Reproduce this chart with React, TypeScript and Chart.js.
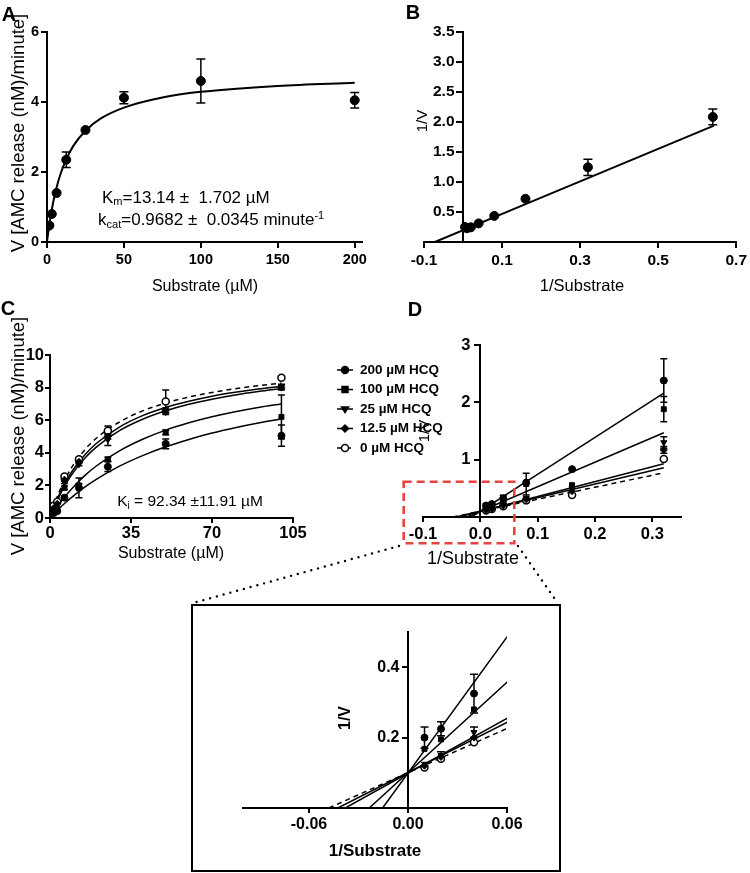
import React, { useEffect, useRef } from 'react';
import { Chart, registerables } from 'chart.js';

Chart.register(...registerables);

const FONT = "'Liberation Sans', Arial, Helvetica, sans-serif";

// ---------------- Panel A : Michaelis-Menten ----------------
const A_SUBSTRATE = [1.5625, 3.125, 6.25, 12.5, 25, 50, 100, 200];
const A_VELOCITY = [0.47, 0.8, 1.4, 2.35, 3.2, 4.12, 4.6, 4.05];
const A_ERROR = [0, 0, 0, 0.22, 0, 0.17, 0.63, 0.22];
const A_FIT_X = [0, 1, 2, 4, 6, 9, 12.5, 17, 25, 35, 50, 75, 100, 150, 200];
const A_FIT_Y = [0, 0.34, 0.64, 1.13, 1.52, 1.97, 2.36, 2.74, 3.18, 3.53, 3.84, 4.13, 4.29, 4.46, 4.55];
const A_X_TICKS = [0, 50, 100, 150, 200];
const A_Y_TICKS = [0, 2, 4, 6];

// ---------------- Panel B : Lineweaver-Burk ----------------
const B_INV_S = [0.005, 0.01, 0.02, 0.04, 0.08, 0.16, 0.32, 0.64];
const B_INV_V = [0.25, 0.23, 0.245, 0.31, 0.435, 0.72, 1.245, 2.085];
const B_ERROR = [0, 0, 0, 0, 0, 0, 0.135, 0.13];
const B_FIT_X = [-0.072, 0.643];
const B_FIT_Y = [0, 1.94];
const B_X_TICKS = [-0.1, 0.1, 0.3, 0.5, 0.7];
const B_Y_TICKS = [0.5, 1, 1.5, 2, 2.5, 3, 3.5];

// ---------------- Panel C : inhibition ----------------
const C_SERIES_LABELS = ['200 \u00B5M HCQ', '100 \u00B5M HCQ', '25 \u00B5M HCQ', '12.5 \u00B5M HCQ', '0 \u00B5M HCQ'];
const C_SUBSTRATE = [1.5625, 3.125, 6.25, 12.5, 25, 50, 100];
const C_V_200 = [0.3, 0.42, 1.25, 1.85, 3.15, 4.55, 5.05];
const C_V_100 = [0.35, 0.55, 1.85, 2.0, 3.6, 5.25, 6.2];
const C_V_25 = [0.5, 0.8, 2.2, 3.3, 4.8, 6.5, 8.05];
const C_V_12_5 = [0.6, 0.87, 2.35, 3.45, 5.0, 6.6, 8.0];
const C_V_0 = [0.75, 1.0, 2.55, 3.6, 5.35, 7.15, 8.6];
const C_E_200 = [0, 0, 0.08, 0.6, 0.3, 0.3, 0.65];
const C_E_100 = [0, 0, 0.1, 0.1, 0.12, 0.15, 1.35];
const C_E_25 = [0, 0, 0.08, 0.1, 0.35, 0.15, 0.15];
const C_E_12_5 = [0, 0, 0.08, 0.1, 0.15, 0.15, 0.15];
const C_E_0 = [0, 0, 0.08, 0.1, 0.3, 0.7, 0.1];
const C_FIT_X = [0, 2, 4, 7, 10, 15, 20, 30, 40, 50, 60, 70, 80, 90, 100];
const C_FIT_200 = [0, 0.30, 0.59, 0.98, 1.34, 1.89, 2.37, 3.18, 3.83, 4.37, 4.82, 5.21, 5.54, 5.83, 6.08];
const C_FIT_100 = [0, 0.45, 0.86, 1.41, 1.89, 2.60, 3.19, 4.12, 4.83, 5.39, 5.84, 6.21, 6.52, 6.78, 7.00];
const C_FIT_25 = [0, 0.71, 1.33, 2.12, 2.78, 3.66, 4.35, 5.36, 6.06, 6.58, 6.98, 7.29, 7.55, 7.76, 7.94];
const C_FIT_12_5 = [0, 0.78, 1.44, 2.28, 2.96, 3.87, 4.57, 5.58, 6.28, 6.78, 7.16, 7.47, 7.71, 7.91, 8.08];
const C_FIT_0 = [0, 0.87, 1.61, 2.51, 3.24, 4.18, 4.89, 5.89, 6.57, 7.05, 7.42, 7.70, 7.93, 8.12, 8.27];
const C_X_TICKS = [0, 35, 70, 105];
const C_Y_TICKS = [0, 2, 4, 6, 8, 10];

// ---------------- Panel D : double reciprocal with inhibitor ----------------
const D_INV_S = [0.01, 0.02, 0.04, 0.08, 0.16, 0.32];
const D_INV_V_200 = [0.20, 0.225, 0.325, 0.60, 0.835, 2.38];
const D_INV_V_100 = [0.168, 0.195, 0.28, 0.575, 0.555, 1.88];
const D_INV_V_25 = [0.125, 0.15, 0.215, 0.33, 0.50, 1.3];
const D_INV_V_12_5 = [0.12, 0.145, 0.20, 0.31, 0.45, 1.17];
const D_INV_V_0 = [0.115, 0.14, 0.187, 0.29, 0.385, 1.01];
const D_E_200 = [0.03, 0.02, 0.055, 0, 0, 0.38];
const D_E_100 = [0, 0, 0, 0.19, 0, 0.22];
const D_E_25 = [0, 0.01, 0.015, 0, 0, 0.1];
const D_E_12_5 = [0, 0, 0, 0, 0, 0.06];
const D_E_0 = [0, 0, 0, 0, 0, 0];
const D_LINE_X_START = [-0.0154, -0.0235, -0.038, -0.0425, -0.048];
const D_LINE_X_END = [0.32, 0.32, 0.32, 0.32, 0.32];
const D_LINE_Y_END = [2.16, 1.47, 0.93, 0.86, 0.77];
const D_X_TICKS = [-0.1, 0, 0.1, 0.2, 0.3];
const D_Y_TICKS = [1, 2, 3];
const INSET_X_TICKS = [-0.06, 0, 0.06];
const INSET_Y_TICKS = [0.2, 0.4];

// ---------------- styles ----------------
const SERIES_STYLE = [
  { pointStyle: 'circle', rotation: 0, filled: true, dash: [] as number[] },
  { pointStyle: 'rect', rotation: 0, filled: true, dash: [] as number[] },
  { pointStyle: 'triangle', rotation: 180, filled: true, dash: [] as number[] },
  { pointStyle: 'rectRot', rotation: 0, filled: true, dash: [] as number[] },
  { pointStyle: 'circle', rotation: 0, filled: false, dash: [5, 4] },
];

const toXY = (xs: number[], ys: number[]) => xs.map((x, i) => ({ x, y: ys[i] }));

const errorBarPlugin = {
  id: 'errorBars',
  beforeDatasetsDraw(chart: any) {
    const { ctx, chartArea, scales } = chart;
    ctx.save();
    ctx.beginPath();
    ctx.rect(chartArea.left - 1, chartArea.top - 8, chartArea.right - chartArea.left + 2, chartArea.bottom - chartArea.top + 8);
    ctx.clip();
    chart.data.datasets.forEach((ds: any, i: number) => {
      if (!ds.errors) return;
      const meta = chart.getDatasetMeta(i);
      ctx.strokeStyle = '#000';
      ctx.lineWidth = ds.errorWidth || 1.5;
      meta.data.forEach((pt: any, j: number) => {
        const e = ds.errors[j];
        if (!e) return;
        const v = ds.data[j].y;
        const x = pt.x;
        const yT = scales.y.getPixelForValue(v + e);
        const yB = scales.y.getPixelForValue(v - e);
        const hw = (ds.errorCap || 8) / 2;
        ctx.beginPath();
        ctx.moveTo(x, yT); ctx.lineTo(x, yB);
        ctx.moveTo(x - hw, yT); ctx.lineTo(x + hw, yT);
        ctx.moveTo(x - hw, yB); ctx.lineTo(x + hw, yB);
        ctx.stroke();
      });
    });
    ctx.restore();
  },
};

// y axes that cross the x axis at 0 draw their labels flush with the axis line;
// this moves the library's own labels left of the tick marks.
const shiftLabelsPlugin = {
  id: 'shiftLabels',
  afterUpdate(chart: any, _args: any, opts: any) {
    const sc = chart.scales.y;
    if (!opts || !opts.dx || !sc || sc.__shifted) return;
    const orig = sc.drawLabels.bind(sc);
    sc.drawLabels = (area: any) => {
      const ctx = sc.ctx;
      ctx.save();
      ctx.translate(opts.dx, 0);
      orig(area);
      ctx.restore();
    };
    sc.__shifted = true;
  },
};

function drawMarker(ctx: CanvasRenderingContext2D, style: string, rot: number, x: number, y: number, r: number, filled: boolean) {
  ctx.beginPath();
  if (style === 'circle') {
    ctx.arc(x, y, r, 0, Math.PI * 2);
  } else if (style === 'rect') {
    const s = r * 0.85;
    ctx.rect(x - s, y - s, 2 * s, 2 * s);
  } else if (style === 'triangle') {
    const d = rot === 180 ? -1 : 1;
    ctx.moveTo(x - r, y + d * r * 0.6);
    ctx.lineTo(x + r, y + d * r * 0.6);
    ctx.lineTo(x, y - d * r * 1.0);
    ctx.closePath();
  } else if (style === 'rectRot') {
    ctx.moveTo(x, y - r); ctx.lineTo(x + r, y); ctx.lineTo(x, y + r); ctx.lineTo(x - r, y); ctx.closePath();
  }
  ctx.fillStyle = filled ? '#000' : '#fff';
  ctx.fill();
  ctx.lineWidth = 1.5;
  ctx.strokeStyle = '#000';
  ctx.stroke();
}

const sideLegendPlugin = {
  id: 'sideLegend',
  afterDraw(chart: any, _args: any, opts: any) {
    if (!opts || !opts.items) return;
    const ctx = chart.ctx;
    opts.items.forEach((it: any, i: number) => {
      const y = opts.top + i * opts.spacing;
      ctx.save();
      ctx.strokeStyle = '#000';
      ctx.lineWidth = 1.5;
      ctx.setLineDash(it.dash);
      ctx.beginPath();
      ctx.moveTo(opts.left, y);
      ctx.lineTo(opts.left + opts.lineLen, y);
      ctx.stroke();
      ctx.setLineDash([]);
      drawMarker(ctx, it.pointStyle, it.rotation, opts.left + opts.lineLen / 2, y, 3.5, it.filled);
      ctx.fillStyle = '#000';
      ctx.font = `bold ${opts.fontSize}px ${FONT}`;
      ctx.textBaseline = 'middle';
      ctx.textAlign = 'left';
      ctx.fillText(it.label, opts.textLeft, y);
      ctx.restore();
    });
  },
};

type AxisSpec = {
  min: number; max: number; ticks: number[]; decimals: number; size: number;
  padding: number; tickLength: number; fit?: number; position?: any;
};

function axis(kind: 'x' | 'y', s: AxisSpec) {
  const o: any = {
    type: 'linear',
    min: s.min,
    max: s.max,
    position: s.position || (kind === 'x' ? 'bottom' : 'left'),
    afterBuildTicks: (sc: any) => { sc.ticks = s.ticks.map((v) => ({ value: v })); },
    ticks: {
      callback: (v: any) => Number(v).toFixed(s.decimals),
      font: { family: FONT, size: s.size, weight: 'bold' },
      color: '#000',
      padding: s.padding,
      maxRotation: 0,
      minRotation: 0,
      autoSkip: false,
    },
    grid: {
      display: true, drawOnChartArea: false, drawTicks: true,
      tickLength: s.tickLength, tickWidth: 2, tickColor: '#000', lineWidth: 2, color: '#000',
    },
    border: { display: true, color: '#000', width: 2 },
    title: { display: false },
  };
  if (s.fit !== undefined) {
    o.afterFit = (sc: any) => { if (kind === 'x') sc.height = s.fit; else sc.width = s.fit; };
  }
  return o;
}

function baseOptions(padding: any, scales: any, extraPlugins: any = {}) {
  return {
    responsive: false,
    animation: false,
    events: [],
    layout: { padding },
    plugins: { legend: { display: false }, tooltip: { enabled: false }, title: { display: false }, ...extraPlugins },
    scales,
  };
}

function pointDataset(xs: number[], ys: number[], errs: number[], styleIdx: number, radius: number, cap: number) {
  const st = SERIES_STYLE[styleIdx];
  return {
    data: toXY(xs, ys),
    showLine: false,
    pointRadius: radius,
    pointStyle: st.pointStyle,
    rotation: st.rotation,
    pointRotation: st.rotation,
    pointBackgroundColor: st.filled ? '#000' : '#fff',
    pointBorderColor: '#000',
    pointBorderWidth: st.filled ? 1 : 1.5,
    borderColor: '#000',
    errors: errs,
    errorCap: cap,
    errorWidth: 1.5,
  };
}

function curveDataset(xs: number[], ys: number[], width: number, dash: number[] = []) {
  return {
    data: toXY(xs, ys),
    showLine: true,
    pointRadius: 0,
    borderColor: '#000',
    borderWidth: width,
    borderDash: dash,
    cubicInterpolationMode: 'monotone',
    fill: false,
  };
}

// ---------------- chart configs ----------------
function configA() {
  return {
    type: 'line',
    data: {
      datasets: [
        pointDataset(A_SUBSTRATE, A_VELOCITY, A_ERROR, 0, 4.5, 9),
        curveDataset(A_FIT_X, A_FIT_Y, 2),
      ],
    },
    options: baseOptions({ left: 0, top: 32, right: 8, bottom: 0 }, {
      x: axis('x', { min: 0, max: 204.5, ticks: A_X_TICKS, decimals: 0, size: 14.5, padding: 3, tickLength: 6, fit: 48 }),
      y: axis('y', { min: 0, max: 6, ticks: A_Y_TICKS, decimals: 0, size: 14.5, padding: 2, tickLength: 6, fit: 47 }),
    }),
    plugins: [errorBarPlugin],
  };
}

function configB() {
  return {
    type: 'line',
    data: {
      datasets: [
        pointDataset(B_INV_S, B_INV_V, B_ERROR, 0, 4.5, 9),
        curveDataset(B_FIT_X, B_FIT_Y, 2),
      ],
    },
    options: baseOptions({ left: 54, top: 32, right: 12, bottom: 0 }, {
      x: axis('x', { min: -0.1, max: 0.7, ticks: B_X_TICKS, decimals: 1, size: 15.5, padding: 3, tickLength: 6, fit: 48 }),
      y: axis('y', { min: 0, max: 3.5, ticks: B_Y_TICKS, decimals: 1, size: 15.5, padding: 2, tickLength: 6, position: { x: 0 } }),
    }, { shiftLabels: { dx: -8.5 } }),
    plugins: [errorBarPlugin, shiftLabelsPlugin],
  };
}

function configC() {
  const vs = [C_V_200, C_V_100, C_V_25, C_V_12_5, C_V_0];
  const es = [C_E_200, C_E_100, C_E_25, C_E_12_5, C_E_0];
  const fits = [C_FIT_200, C_FIT_100, C_FIT_25, C_FIT_12_5, C_FIT_0];
  const pts = vs.map((v, i) => pointDataset(C_SUBSTRATE, v, es[i], i, 3.5, 7));
  const curves = fits.map((f, i) => curveDataset(C_FIT_X, f, 1.5, SERIES_STYLE[i].dash));
  return {
    type: 'line',
    data: { datasets: [...pts, ...curves] },
    options: baseOptions({ left: 0, top: 65, right: 157, bottom: 0 }, {
      x: axis('x', { min: 0, max: 105, ticks: C_X_TICKS, decimals: 0, size: 16.5, padding: 1, tickLength: 5, fit: 62 }),
      y: axis('y', { min: 0, max: 10, ticks: C_Y_TICKS, decimals: 0, size: 16.5, padding: 1, tickLength: 5, fit: 50 }),
    }, {
      sideLegend: {
        items: C_SERIES_LABELS.map((label, i) => ({ label, ...SERIES_STYLE[i] })),
        left: 337, lineLen: 16, textLeft: 360, top: 80, spacing: 19.5, fontSize: 13.5,
      },
    }),
    plugins: [errorBarPlugin, sideLegendPlugin],
  };
}

function lbDatasets(radius: number, cap: number, width: number) {
  const vs = [D_INV_V_200, D_INV_V_100, D_INV_V_25, D_INV_V_12_5, D_INV_V_0];
  const es = [D_E_200, D_E_100, D_E_25, D_E_12_5, D_E_0];
  const pts = vs.map((v, i) => pointDataset(D_INV_S, v, es[i], i, radius, cap));
  const lines = D_LINE_Y_END.map((yEnd, i) =>
    curveDataset([D_LINE_X_START[i], D_LINE_X_END[i]], [0, yEnd], width, SERIES_STYLE[i].dash));
  return [...pts, ...lines];
}

function configD() {
  return {
    type: 'line',
    data: { datasets: lbDatasets(3.5, 7, 1.5) },
    options: baseOptions({ left: 53, top: 55, right: 69, bottom: 0 }, {
      x: axis('x', { min: -0.1, max: 0.35, ticks: D_X_TICKS, decimals: 1, size: 16.5, padding: 3, tickLength: 5, fit: 63 }),
      y: axis('y', { min: 0, max: 3, ticks: D_Y_TICKS, decimals: 0, size: 16.5, padding: 3, tickLength: 5, position: { x: 0 } }),
    }, { shiftLabels: { dx: -10 } }),
    plugins: [errorBarPlugin, shiftLabelsPlugin],
  };
}

function configInset() {
  return {
    type: 'line',
    data: { datasets: lbDatasets(3.5, 8, 1.5) },
    options: baseOptions({ left: 50, top: 26, right: 52, bottom: 0 }, {
      x: axis('x', { min: -0.1, max: 0.06, ticks: INSET_X_TICKS, decimals: 2, size: 16, padding: 2, tickLength: 5, fit: 62 }),
      y: axis('y', { min: 0, max: 0.5, ticks: INSET_Y_TICKS, decimals: 1, size: 16, padding: 2, tickLength: 5, position: { x: 0 } }),
    }, { shiftLabels: { dx: -8.5 } }),
    plugins: [errorBarPlugin, shiftLabelsPlugin],
  };
}

function ChartPanel({ left, top, width, height, make }: any) {
  const ref = useRef<HTMLCanvasElement | null>(null);
  useEffect(() => {
    const chart = new Chart(ref.current as HTMLCanvasElement, make());
    return () => chart.destroy();
  }, []);
  return (
    <div style={{ position: 'absolute', left, top, width, height }}>
      <canvas ref={ref} width={width} height={height} style={{ width, height, display: 'block' }} />
    </div>
  );
}

function Txt({ x, y, size, bold, rotate, left, children }: any) {
  const tx = left ? '0' : '-50%';
  return (
    <div style={{
      position: 'absolute', left: x, top: y,
      transform: `translate(${tx}, -50%)${rotate ? ' rotate(-90deg)' : ''}`,
      fontFamily: FONT, fontSize: size, fontWeight: bold ? 700 : 400,
      whiteSpace: 'pre', lineHeight: 1, color: '#000',
    }}>{children}</div>
  );
}

export default function App() {
  const subStyle: any = { fontSize: '0.65em', verticalAlign: '-0.25em' };
  const supStyle: any = { fontSize: '0.65em', verticalAlign: '0.55em' };
  return (
    <div style={{ position: 'fixed', left: 0, top: 0, width: 750, height: 873, background: '#fff', overflow: 'hidden' }}>
      <ChartPanel left={0} top={0} width={370} height={290} make={configA} />
      <ChartPanel left={370} top={0} width={380} height={290} make={configB} />
      <ChartPanel left={0} top={290} width={450} height={290} make={configC} />
      <ChartPanel left={370} top={290} width={380} height={290} make={configD} />
      <ChartPanel left={193} top={606} width={366} height={264} make={configInset} />

      {/* panel letters */}
      <Txt x={9} y={14} size={20} bold>A</Txt>
      <Txt x={413} y={12} size={20} bold>B</Txt>
      <Txt x={8} y={308} size={20} bold>C</Txt>
      <Txt x={415} y={309} size={20} bold>D</Txt>

      {/* panel A texts */}
      <Txt x={205} y={286} size={16}>Substrate (µM)</Txt>
      <Txt x={18} y={133} size={18.5} rotate>V [AMC release (nM)/minute]</Txt>
      <Txt x={102} y={198} size={17} left>K<span style={subStyle}>m</span>=13.14 ±  1.702 µM</Txt>
      <Txt x={98} y={220} size={17} left>k<span style={subStyle}>cat</span>=0.9682 ±  0.0345 minute<span style={supStyle}>-1</span></Txt>

      {/* panel B texts */}
      <Txt x={582} y={285} size={16.5}>1/Substrate</Txt>
      <Txt x={421} y={121} size={15} rotate>1/V</Txt>

      {/* panel C texts */}
      <Txt x={171} y={553} size={16}>Substrate (µM)</Txt>
      <Txt x={18} y={436} size={18.5} rotate>V [AMC release (nM)/minute]</Txt>
      <Txt x={190} y={502} size={15.5}>K<span style={subStyle}>i</span> = 92.34 ±11.91 µM</Txt>

      {/* panel D texts */}
      <Txt x={473} y={558} size={18}>1/Substrate</Txt>
      <Txt x={423} y={431} size={15} rotate>1/V</Txt>

      {/* inset frame and texts */}
      <div style={{ position: 'absolute', left: 191, top: 604, width: 370, height: 268, border: '2.5px solid #000', boxSizing: 'border-box' }} />
      <Txt x={375} y={850} size={17} bold>1/Substrate</Txt>
      <Txt x={345} y={718} size={16} bold rotate>1/V</Txt>

      {/* zoom indicator */}
      <svg width={750} height={873} style={{ position: 'absolute', left: 0, top: 0, pointerEvents: 'none' }}>
        <rect x={403.7} y={481.7} width={110.6} height={61.6} fill="none" stroke="#e8433f" strokeWidth={2.6} strokeDasharray="8 5" />
        <line x1={399} y1={546} x2={193} y2={603} stroke="#000" strokeWidth={2.4} strokeDasharray="0 7" strokeLinecap="round" />
        <line x1={518} y1={546} x2={557} y2={602} stroke="#000" strokeWidth={2.4} strokeDasharray="0 7" strokeLinecap="round" />
      </svg>
    </div>
  );
}
